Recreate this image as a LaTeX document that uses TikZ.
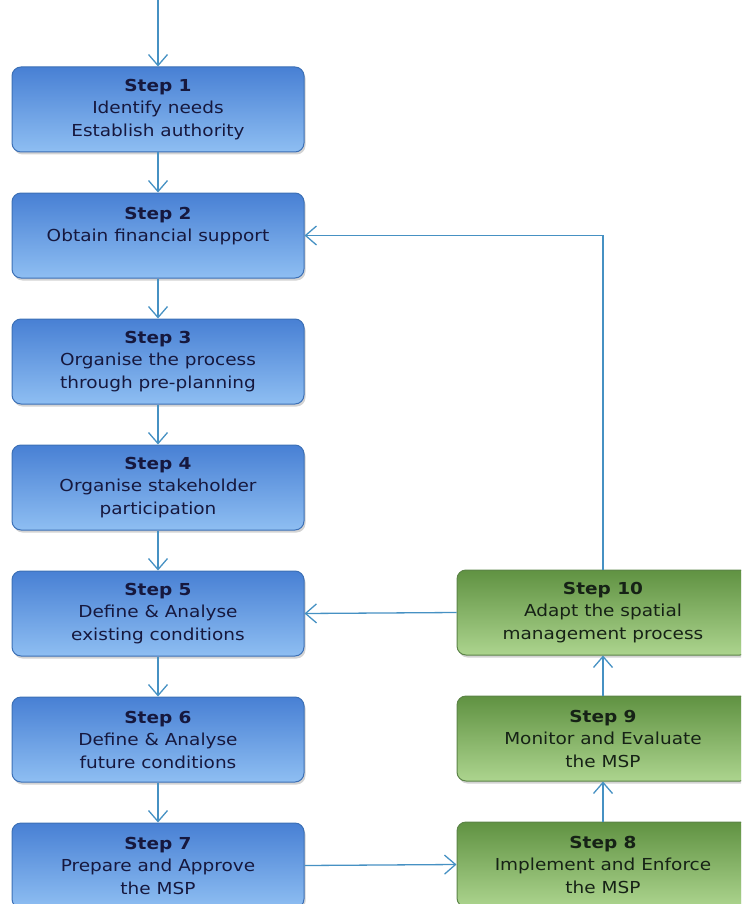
\documentclass[tikz,border=0pt]{standalone}
\usepackage{fontspec}
\setmainfont{DejaVu Sans}[FakeStretch=1.12]
\usetikzlibrary{arrows.meta,shadows}
\definecolor{linkblue}{RGB}{70,145,195}
\definecolor{bluetop}{RGB}{72,128,212}
\definecolor{bluebot}{RGB}{142,190,242}
\definecolor{blueline}{RGB}{60,112,182}
\definecolor{greentop}{RGB}{96,146,66}
\definecolor{greenbot}{RGB}{172,212,142}
\definecolor{greenline}{RGB}{92,132,72}
\tikzset{box/.style={draw, line width=1pt, rounded corners=9pt, minimum width=292pt, minimum height=85pt, align=center,
    font=\fontsize{16.5}{22.5}\selectfont, drop shadow={shadow xshift=1.5pt, shadow yshift=-2.5pt, opacity=0.35}}}
\tikzset{bluebox/.style={box, draw=blueline, top color=bluetop, bottom color=bluebot, text={rgb,255:red,22;green,24;blue,62}}}
\tikzset{greenbox/.style={box, draw=greenline, top color=greentop, bottom color=greenbot, text={rgb,255:red,22;green,34;blue,22}}}
\tikzset{link/.style={draw=linkblue, line width=1.3pt, -{Straight Barb[length=11pt,width=19pt,line width=1.3pt]}}}

\begin{document}
\begin{tikzpicture}[x=1pt,y=-1pt]
    \useasboundingbox (0,0) rectangle (741,904);
    \clip (0,0) rectangle (741,904);
    \coordinate (start) at (158,0);
    \foreach \t[count=\n] in {{Identify needs\\Establish authority},
                              {Obtain financial support\\\mbox{}},
                              {Organise the process\\through pre-planning},
                              {Organise stakeholder\\participation},
                              {Define \& Analyse\\existing conditions},
                              {Define \& Analyse\\future conditions},
                              {Prepare and Approve\\the MSP}}{
        \node[bluebox] (s\n) at (158,{109.5+126*(\n-1)}) {\textbf{Step \n}\\\t};
    }
    \node[greenbox] (s10) at (603,612.5) {\textbf{Step 10}\\Adapt the spatial\\management process};
    \node[greenbox] (s9) at (603,738.5) {\textbf{Step 9}\\Monitor and Evaluate\\the MSP};
    \node[greenbox] (s8) at (603,864.5) {\textbf{Step 8}\\Implement and Enforce\\the MSP};

    \draw[link] (start) -- (s1.north);
    \foreach \a/\b in {1/2,2/3,3/4,4/5,5/6,6/7}{
        \draw[link] (s\a.south) -- (s\b.north);
    }
    \draw[link] (s7.east) -- (s8.west);
    \draw[link] (s8.north) -- (s9.south);
    \draw[link] (s9.north) -- (s10.south);
    \draw[link] (s10.west) -- (s5.east);
    \draw[link] (s10.north) |- (s2.east);
\end{tikzpicture}
\end{document}
